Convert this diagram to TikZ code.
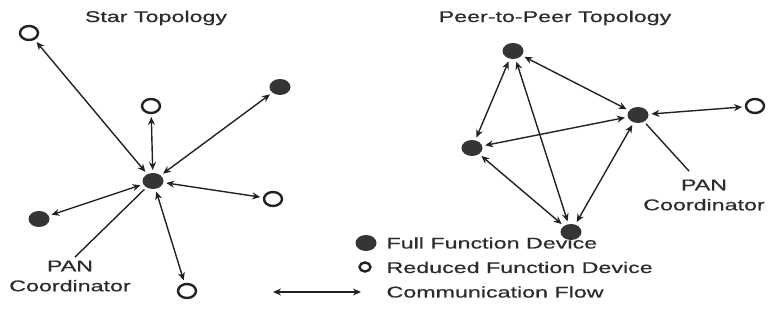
\documentclass[tikz,border=0pt]{standalone}
\usepackage{fontspec}
\usepackage{tikz}
\usetikzlibrary{positioning, arrows.meta, shapes.geometric}
\newfontfamily\diagfont[FakeStretch=1.5, FakeBold=0.6]{Liberation Sans}
\definecolor{DevGray}{HTML}{353535}
\definecolor{LineGray}{HTML}{222222}
\definecolor{TextGray}{HTML}{2C2C2C}

\begin{document}
\begin{tikzpicture}[
        x=1pt, y=1pt,
        ffd/.style={
            ellipse, fill=DevGray, draw=none, inner sep=0pt,
            minimum width=21pt, minimum height=16pt, outer sep=3pt
        },
        rfd/.style={
            ellipse, draw=LineGray, line width=2.4pt, fill=white, inner sep=0pt,
            minimum width=18pt, minimum height=14pt, outer sep=4pt
        },
        label/.style={font=\diagfont\fontsize{15.5}{20}\selectfont, color=TextGray},
        flow/.style={line width=1.4pt, <->, >={Stealth[length=8pt,width=7pt]}, color=LineGray},
        leader/.style={line width=1.4pt, color=LineGray}
    ]
    \useasboundingbox (0,0) rectangle (768,329);

    % Titles
    \node (starTitle) [label] at (156,311) {Star Topology};
    \node (peerTitle) [label] at (555,311) {Peer-to-Peer Topology};

    % Star devices
    \node (star0) [ffd] at (153,148) {};
    \node (star1) [rfd] at (29,296) {};
    \node (star2) [ffd] at (280,242) {};
    \node (star3) [rfd] at (151,223) {};
    \node (star4) [rfd] at (273,130) {};
    \node (star5) [ffd] at (39,110) {};
    \node (star6) [rfd] at (187,38) {};

    % Star links
    \foreach \n in {1,...,6}
        \draw [flow] (star0) -- (star\n);

    \node (panStar) [label, align=center] at (70,53) {PAN\\Coordinator};
    \draw [leader] ([xshift=5pt]panStar.north) -- (star0);

    % Peer-to-peer devices
    \node (peer0) [ffd] at (638,214) {};
    \node (peer1) [ffd] at (513,278) {};
    \node (peer2) [rfd] at (755,223) {};
    \node (peer3) [ffd] at (472,181) {};
    \node (peer4) [ffd] at (571,97) {};

    % Peer-to-peer links
    \draw [flow] (peer1) -- (peer0);
    \draw [flow] (peer1) -- (peer3);
    \draw [flow] (peer1) -- (peer4);
    \draw [flow] (peer3) -- (peer0);
    \draw [flow] (peer3) -- (peer4);
    \draw [flow] (peer0) -- (peer4);
    \draw [flow] (peer0) -- (peer2);

    \node (panPeer) [label, align=center] at (704,134) {PAN\\Coordinator};
    \draw [leader] ([xshift=-15pt,yshift=5pt]panPeer.north) -- (peer0);

    % Legend
    \node (lgFull) [ffd] at (366,86) {};
    \node (lgReduced) [rfd, minimum width=11pt, minimum height=9pt] at (365,62) {};
    \coordinate (flowA) at (273,37);
    \coordinate (flowB) at (361,37);
    \draw [flow] (flowA) -- (flowB);

    \node (lgFullTxt) [label, anchor=base west] at (383,80.5) {Full Function Device};
    \node (lgReducedTxt) [label, anchor=base west] at (383,56) {Reduced Function Device};
    \node (lgFlowTxt) [label, anchor=base west] at (383,31.5) {Communication Flow};

\end{tikzpicture}
\end{document}
